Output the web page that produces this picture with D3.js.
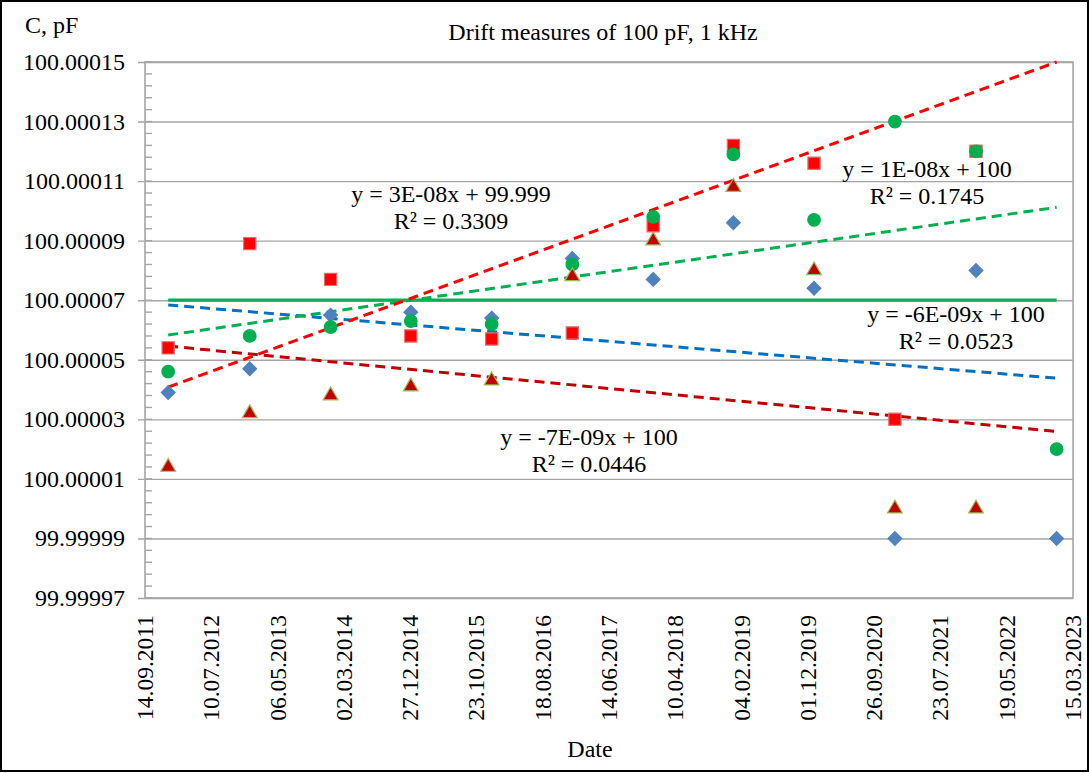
<!DOCTYPE html>
<html>
<head>
<meta charset="utf-8">
<script src="https://cdn.jsdelivr.net/npm/d3@7"></script>
<style>
  body { margin: 0; background: #fff; }
</style>
</head>
<body>
<div id="chart"></div>
<script>
// measurement dates (dd.mm.yyyy)
const dates = ["28.12.2011", "31.12.2012", "01.01.2014", "30.12.2014", "31.12.2015", "30.12.2016",
               "31.12.2017", "29.12.2018", "29.12.2019", "29.12.2020", "31.12.2021", "31.12.2022"];

// series values, C in pF (null = no measure)
const blueDiamonds = [100.000039, 100.000047, 100.000065, 100.000066, 100.000064, 100.000084,
                      100.000077, 100.000096, 100.000074, 99.99999, 100.00008, 99.99999];
const redSquares = [100.000054, 100.000089, 100.000077, 100.000058, 100.000057, 100.000059,
                    100.000095, 100.000122, 100.000116, 100.00003, 100.00012, null];
const greenCircles = [100.000046, 100.000058, 100.000061, 100.000063, 100.000062, 100.000082,
                      100.000098, 100.000119, 100.000097, 100.00013, 100.00012, 100.00002];
const triangles = [100.000014, 100.000032, 100.000038, 100.000041, 100.000043, 100.000078,
                   100.00009, 100.000108, 100.00008, 100.0, 100.0, null];

// trend lines: value at first and last date
const trendRed = [100.0000408, 100.00015];
const trendGreen = [100.0000583, 100.0001012];
const levelGreen = [100.00007, 100.00007];
const trendBlue = [100.0000684, 100.0000438];
const trendDarkRed = [100.0000546, 100.0000259];

const xTickLabels = ["14.09.2011", "10.07.2012", "06.05.2013", "02.03.2014", "27.12.2014",
                     "23.10.2015", "18.08.2016", "14.06.2017", "10.04.2018", "04.02.2019",
                     "01.12.2019", "26.09.2020", "23.07.2021", "19.05.2022", "15.03.2023"];
const yTickLabels = ["99.99997", "99.99999", "100.00001", "100.00003", "100.00005",
                     "100.00007", "100.00009", "100.00011", "100.00013", "100.00015"];

const equations = [
  ["y = 3E-08x + 99.999", "R\u00B2 = 0.3309"],
  ["y = 1E-08x + 100", "R\u00B2 = 0.1745"],
  ["y = -6E-09x + 100", "R\u00B2 = 0.0523"],
  ["y = -7E-09x + 100", "R\u00B2 = 0.0446"]
];

const width = 1089, height = 773;
const margin = {top: 62, right: 16, bottom: 175, left: 145};
const parse = d3.utcParse("%d.%m.%Y");
const xDates = dates.map(parse);
const xTicks = xTickLabels.map(parse);
const yTicks = yTickLabels.map(Number);
const font = "'Liberation Serif', Tinos, 'Times New Roman', Times, 'DejaVu Serif', serif";

const svg = d3.select("#chart").append("svg")
  .attr("width", width)
  .attr("height", height)
  .attr("font-family", font)
  .style("font-family", font);

svg.append("rect")
  .attr("x", 1).attr("y", 1)
  .attr("width", width - 2).attr("height", height - 3)
  .attr("fill", "#fff")
  .attr("stroke", "#000")
  .attr("stroke-width", 2);

const x = d3.scaleUtc()
  .domain([xTicks[0], xTicks[xTicks.length - 1]])
  .range([margin.left, width - margin.right]);

const y = d3.scaleLinear()
  .domain([yTicks[0], yTicks[yTicks.length - 1]])
  .range([height - margin.bottom, margin.top]);

const grey = "#a5a5a5";

// horizontal grid with outside major ticks
svg.append("g")
  .attr("transform", "translate(" + margin.left + ",0)")
  .call(d3.axisLeft(y).tickValues(yTicks).tickSize(-(width - margin.left - margin.right)).tickFormat(""))
  .call(g => g.select(".domain").remove())
  .call(g => g.selectAll("line").attr("stroke", grey).attr("stroke-width", 1.4).attr("x1", -7));

// minor ticks inside the plot
const minor = d3.range(yTicks[0], yTicks[yTicks.length - 1] + 1e-9, 0.000004);
svg.append("g").selectAll("line").data(minor)
  .enter().append("line")
  .attr("x1", margin.left).attr("x2", margin.left + 7)
  .attr("y1", d => y(d)).attr("y2", d => y(d))
  .attr("stroke", grey).attr("stroke-width", 1.4);

// plot frame
svg.append("rect")
  .attr("x", margin.left).attr("y", margin.top)
  .attr("width", width - margin.left - margin.right)
  .attr("height", height - margin.top - margin.bottom)
  .attr("fill", "none")
  .attr("stroke", grey)
  .attr("stroke-width", 1.6);

// y labels
svg.append("g").selectAll("text").data(yTicks)
  .enter().append("text")
  .attr("x", 125)
  .attr("y", d => y(d) + 8)
  .attr("text-anchor", "end")
  .attr("font-size", 24)
  .text((d, i) => yTickLabels[i]);

// x labels, rotated
svg.append("g").selectAll("text").data(xTicks)
  .enter().append("text")
  .attr("transform", d => "translate(" + (x(d) + 8) + "," + 615 + ") rotate(-90)")
  .attr("text-anchor", "end")
  .attr("font-size", 23.5)
  .text((d, i) => xTickLabels[i]);

// trend lines
const ends = [xDates[0], xDates[xDates.length - 1]];
const line = d3.line().x((d, i) => x(ends[i])).y(d => y(d));
const trends = [
  {v: levelGreen, c: "#00b050", dash: null, w: 3.2},
  {v: trendBlue, c: "#0070c0", dash: "10,6", w: 3},
  {v: trendDarkRed, c: "#c00000", dash: "10,6", w: 3},
  {v: trendGreen, c: "#00b050", dash: "10,6", w: 3},
  {v: trendRed, c: "#ff0000", dash: "10,6", w: 3}
];
svg.append("g").selectAll("path").data(trends)
  .enter().append("path")
  .attr("d", d => line(d.v))
  .attr("fill", "none")
  .attr("stroke", d => d.c)
  .attr("stroke-width", d => d.w)
  .attr("stroke-dasharray", d => d.dash);

// markers
function pts(vals) {
  return vals.map((v, i) => ({date: xDates[i], v: v})).filter(d => d.v !== null);
}
const series = [
  {vals: blueDiamonds, shape: d3.symbolDiamond2, size: 120, fill: "#4f81bd", stroke: "#4f81bd"},
  {vals: redSquares, shape: d3.symbolSquare, size: 150, fill: "#ff0000", stroke: "#e07070"},
  {vals: greenCircles, shape: d3.symbolCircle, size: 125, fill: "#00b050", stroke: "#00b050"},
  {vals: triangles, shape: d3.symbolTriangle, size: 95, fill: "#c00000", stroke: "#9bbb59"}
];
series.forEach(s => {
  svg.append("g").selectAll("path").data(pts(s.vals))
    .enter().append("path")
    .attr("transform", d => "translate(" + x(d.date) + "," + y(d.v) + ")")
    .attr("d", d3.symbol().type(s.shape).size(s.size))
    .attr("fill", s.fill)
    .attr("stroke", s.stroke)
    .attr("stroke-width", 1.2);
});

// trend equations
const eqPos = [[451, 202], [927, 177], [956, 322], [589, 445]];
equations.forEach((eq, i) => {
  svg.append("text")
    .attr("x", eqPos[i][0]).attr("y", eqPos[i][1])
    .attr("text-anchor", "middle")
    .attr("font-size", 24)
    .text(eq[0]);
  svg.append("text")
    .attr("x", eqPos[i][0]).attr("y", eqPos[i][1] + 27)
    .attr("text-anchor", "middle")
    .attr("font-size", 24)
    .text(eq[1]);
});

// titles
svg.append("text").attr("x", 603).attr("y", 40).attr("text-anchor", "middle")
  .attr("font-size", 24).text("Drift measures of 100 pF, 1 kHz");
svg.append("text").attr("x", 25).attr("y", 33).attr("font-size", 24).text("C, pF");
svg.append("text").attr("x", 590).attr("y", 757).attr("text-anchor", "middle")
  .attr("font-size", 24).text("Date");
</script>
</body>
</html>
